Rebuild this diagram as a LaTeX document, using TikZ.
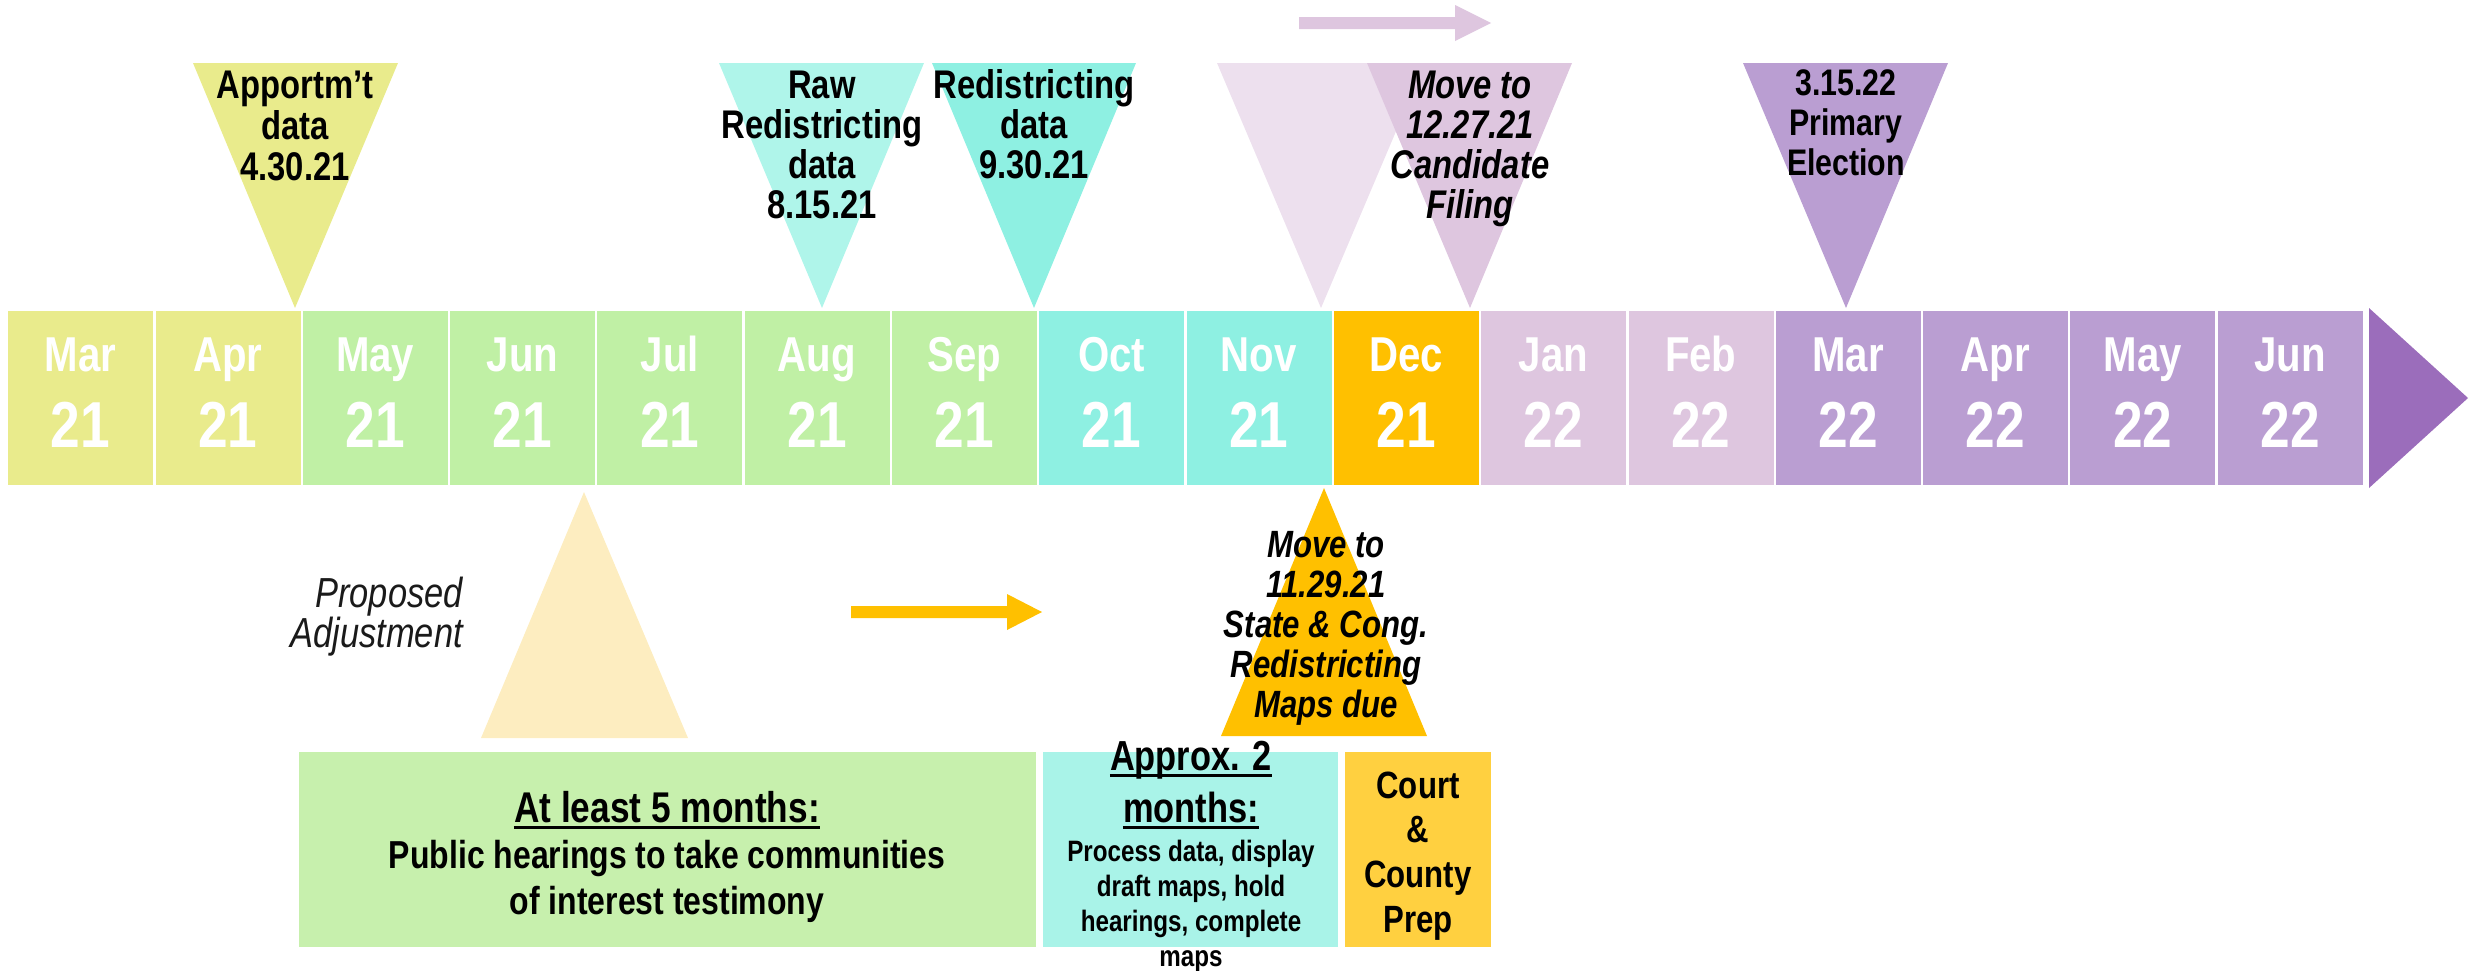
\documentclass[tikz,border=0pt]{standalone}
\usepackage{fontspec}
\setmainfont{Liberation Sans}[FakeStretch=0.82]
\usetikzlibrary{calc}
\definecolor{cYG}{HTML}{E9EB8C}
\definecolor{cLG}{HTML}{C0F0A5}
\definecolor{cAQ}{HTML}{8EF0E2}
\definecolor{cGD}{HTML}{FFC000}
\definecolor{cLa}{HTML}{DEC6DF}
\definecolor{cLb}{HTML}{BA9ED2}
\definecolor{cPU}{HTML}{9B6DBB}
\definecolor{cRaw}{HTML}{AFF5EA}
\definecolor{cPale}{HTML}{EDE0EE}
\definecolor{cPY}{HTML}{FDEDC0}
\definecolor{cGB}{HTML}{C7F0AD}
\definecolor{cAB}{HTML}{A9F3E8}
\definecolor{cCB}{HTML}{FFD040}
\definecolor{cTxt}{HTML}{1A1A1A}
\begin{document}
\begin{tikzpicture}[x=1pt,y=-1pt,
  monthbox/.style={rectangle, inner sep=0, minimum width=145pt, minimum height=174pt, anchor=north west},
  monthtxt/.style={text=white, font=\fontsize{49}{50}\selectfont\bfseries, anchor=base, inner sep=0},
  numtxt/.style={text=white, font=\fontsize{65}{66}\selectfont\bfseries, anchor=base, inner sep=0},
  tritxt/.style={font=\fontsize{40}{40}\selectfont\bfseries, anchor=base, inner sep=0},
  tritxti/.style={font=\fontsize{40}{40}\selectfont\bfseries\itshape, anchor=base, inner sep=0},
  petxt/.style={font=\fontsize{37}{40}\selectfont\bfseries, anchor=base, inner sep=0},
  mdtxt/.style={font=\fontsize{38}{40}\selectfont\bfseries\itshape, anchor=base, inner sep=0},
  proptxt/.style={text=cTxt, font=\fontsize{42}{40}\selectfont\itshape, anchor=base east, inner sep=0},
  headtxt/.style={font=\fontsize{43}{40}\selectfont\bfseries, anchor=base, inner sep=0},
  aheadtxt/.style={font=\fontsize{42}{40}\selectfont\bfseries, anchor=base, inner sep=0},
  bodytxt/.style={font=\fontsize{39}{40}\selectfont\bfseries, anchor=base, inner sep=0},
  smalltxt/.style={font=\fontsize{29.5}{34}\selectfont\bfseries, anchor=base, inner sep=0},
  courttxt/.style={font=\fontsize{38}{44}\selectfont\bfseries, anchor=base, inner sep=0},
  uline/.style={line width=3pt}
]
\useasboundingbox (0,0) rectangle (2478,970);

% ---- top small arrow
\fill[cLa] (1299,17) -- (1455,17) -- (1455,5) -- (1491,23) -- (1455,41) -- (1455,29) -- (1299,29) -- cycle;

% ---- top triangles
\fill[cYG]   (193,63)  -- (398,63)  -- (295,308)  -- cycle;
\fill[cRaw]  (719,63)  -- (924,63)  -- (822,308)  -- cycle;
\fill[cAQ]   (932,63)  -- (1136,63) -- (1034,308) -- cycle;
\fill[cPale] (1217,63) -- (1425,63) -- (1321,308) -- cycle;
\fill[cLa]   (1367,63) -- (1572,63) -- (1470,308) -- cycle;
\fill[cLb]   (1743,63) -- (1948,63) -- (1846,308) -- cycle;

\foreach \t [count=\k] in {Apportm’t, data, 4.30.21}
  \node[tritxt] (ap\k) at (295, {98+41*(\k-1)}) {\t};
\foreach \t [count=\k] in {Raw, Redistricting, data, 8.15.21}
  \node[tritxt] (rw\k) at (822, {98+40*(\k-1)}) {\t};
\foreach \t [count=\k] in {Redistricting, data, 9.30.21}
  \node[tritxt] (rd\k) at (1034, {98+40*(\k-1)}) {\t};
\foreach \t [count=\k] in {Move to, 12.27.21, Candidate, Filing}
  \node[tritxti] (cf\k) at (1470, {98+40*(\k-1)}) {\t};
\foreach \t [count=\k] in {3.15.22, Primary, Election}
  \node[petxt] (pe\k) at (1846, {95+40*(\k-1)}) {\t};

% ---- month boxes
\foreach \i/\m/\y/\c in {1/Mar/21/cYG, 2/Apr/21/cYG, 3/May/21/cLG, 4/Jun/21/cLG,
  5/Jul/21/cLG, 6/Aug/21/cLG, 7/Sep/21/cLG, 8/Oct/21/cAQ, 9/Nov/21/cAQ, 10/Dec/21/cGD,
  11/Jan/22/cLa, 12/Feb/22/cLa, 13/Mar/22/cLb, 14/Apr/22/cLb, 15/May/22/cLb, 16/Jun/22/cLb}
{
  \node[monthbox, fill=\c] (m\i) at ({8+147.3*(\i-1)}, 311) {};
  \node[monthtxt] (mt\i) at ({80.5+147.3*(\i-1)}, 371) {\m};
  \node[numtxt] (mn\i) at ({80.5+147.3*(\i-1)}, 447) {\y};
}
\fill[cPU] (2369,308) -- (2468,398) -- (2369,488) -- cycle;

% ---- bottom shapes
\fill[cPY] (584,492) -- (688,738) -- (481,738) -- cycle;
\fill[cGD] (1324,488) -- (1427,736) -- (1221,736) -- cycle;
\fill[cGD] (851,606) -- (1007,606) -- (1007,594) -- (1042,612) -- (1007,630) -- (1007,618) -- (851,618) -- cycle;

\node[proptxt] (pp1) at (463,607) {Proposed};
\node[proptxt] (pp2) at (463,647) {Adjustment};

\foreach \t [count=\k] in {Move to, 11.29.21, State \& Cong., Redistricting, Maps due}
  \node[mdtxt] (md\k) at (1326, {557+40*(\k-1)}) {\t};

% ---- bottom boxes
\node[rectangle, inner sep=0, fill=cGB, minimum width=737pt, minimum height=195pt, anchor=north west] (gbox) at (299,752) {};
\node[rectangle, inner sep=0, fill=cAB, minimum width=295pt, minimum height=195pt, anchor=north west] (abox) at (1043,752) {};
\node[rectangle, inner sep=0, fill=cCB, minimum width=146pt, minimum height=195pt, anchor=north west] (cbox) at (1345,752) {};

\node[headtxt] (gh) at (667,822) {At least 5 months:};
\draw[uline] ($(gh.base west)+(0,5)$) -- ($(gh.base east)+(0,5)$);
\node[bodytxt] (gb1) at (667,868) {Public hearings to take communities};
\node[bodytxt] (gb2) at (667,914) {of interest testimony};

\node[aheadtxt] (ah1) at (1191,770) {Approx. 2};
\draw[uline] ($(ah1.base west)+(0,5)$) -- ($(ah1.base east)+(0,5)$);
\node[aheadtxt] (ah2) at (1191,822) {months:};
\draw[uline] ($(ah2.base west)+(0,5)$) -- ($(ah2.base east)+(0,5)$);
\foreach \t [count=\k] in {{Process data, display}, {draft maps, hold}, {hearings, complete}, maps}
  \node[smalltxt] (ab\k) at (1191, {861+35*(\k-1)}) {\t};

\foreach \t [count=\k] in {Court, \&, County, Prep}
  \node[courttxt] (cc\k) at (1418, {798+44.7*(\k-1)}) {\t};
\end{tikzpicture}
\end{document}
